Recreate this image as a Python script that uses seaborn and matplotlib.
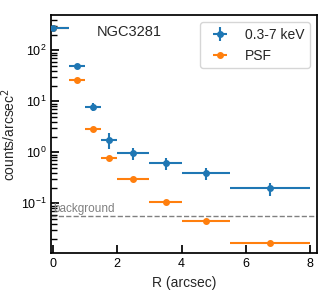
import numpy as np
import pandas as pd
import seaborn as sns
import matplotlib
matplotlib.use("Agg")
import matplotlib.pyplot as plt

# radial profile values
r_mid = [0.0, 0.75, 1.25, 1.75, 2.5, 3.5, 4.75, 6.75]
r_err = [0.5, 0.25, 0.25, 0.25, 0.5, 0.5, 0.75, 1.25]
src_counts = [280, 49, 7.9, 1.74, 0.97, 0.61, 0.39, 0.197]
src_err = [15, 4, 1.5, 0.6, 0.27, 0.17, 0.1, 0.055]
psf_counts = [270, 26.6, 2.9, 0.79, 0.295, 0.108, 0.044, 0.0166]
background = 0.0556

df = pd.DataFrame({"R": r_mid, "xerr": r_err, "src": src_counts,
                   "src_err": src_err, "psf": psf_counts})

sns.set_theme(style="ticks", rc={"axes.edgecolor": "black",
                                 "xtick.color": "black", "ytick.color": "black"})
plt.rcParams['font.family'] = ['Liberation Sans', 'DejaVu Sans']
blue, orange = sns.color_palette("tab10")[:2]

fig, ax = plt.subplots(figsize=(3.24, 2.91), dpi=100)
ax.errorbar(df["R"], df["psf"], xerr=df["xerr"], fmt="o", color=orange,
            ms=4, lw=1.5, label="PSF", zorder=2)
ax.errorbar(df["R"], df["src"], xerr=df["xerr"], yerr=df["src_err"], fmt="o",
            color=blue, ms=4, lw=1.5, label="0.3-7 keV", zorder=3)
ax.axhline(background, color="gray", ls="--", lw=1)
ax.text(0.02, background * 1.08, "background", color="gray", fontsize=8.5,
        va="bottom", ha="left")
ax.text(1.36, 230, "NGC3281", fontsize=10.5, va="center")

ax.set_yscale("log")
ax.set_xlim(-0.05, 8.2)
ax.set_ylim(0.0105, 490)
ax.set_xticks([0, 2, 4, 6, 8])
ax.set_xlabel("R (arcsec)", fontsize=10)
ax.set_ylabel("counts/arcsec$^2$", fontsize=10, labelpad=2)
ax.tick_params(direction="in", which="both", labelsize=9)

h, l = ax.get_legend_handles_labels()
ax.legend(h[::-1], l[::-1], loc="upper right", fontsize=10, frameon=True)

fig.subplots_adjust(left=0.158, right=0.978, top=0.948, bottom=0.13)
fig.savefig("out.png", dpi=100)
